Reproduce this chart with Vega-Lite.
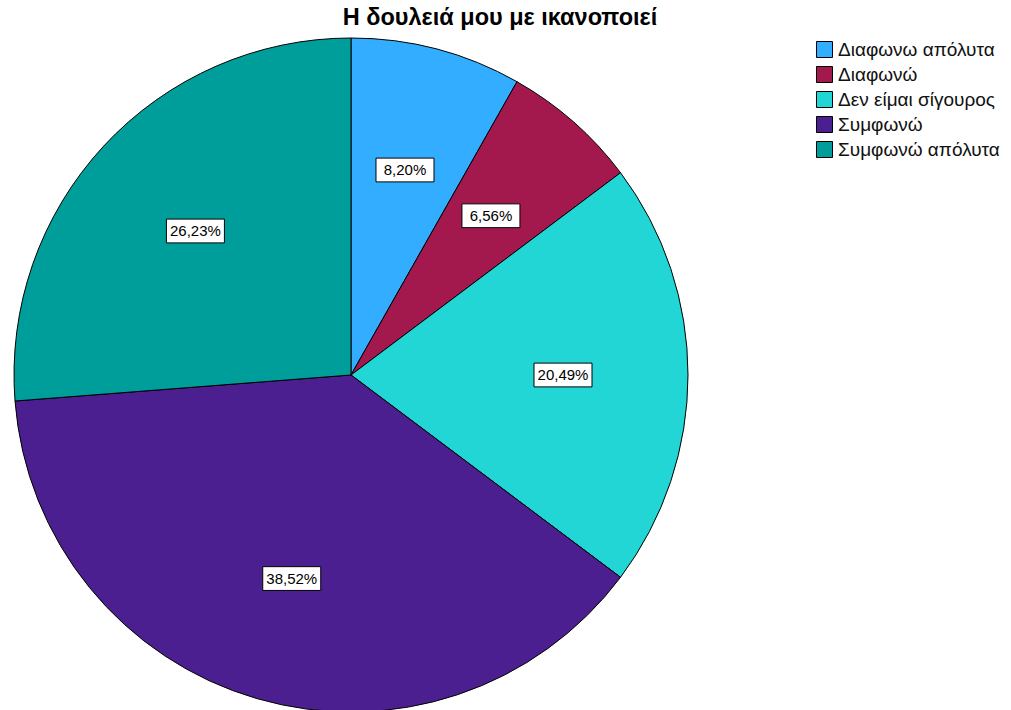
{
  "$schema": "https://vega.github.io/schema/vega-lite/v6.json",
  "width": 702,
  "height": 690,
  "autosize": {"type": "none"},
  "padding": {"left": 0, "top": 30, "right": 309, "bottom": 0},
  "background": "white",
  "config": {"view": {"stroke": null}, "font": "Liberation Sans"},
  "title": {
    "text": "Η δουλειά μου με ικανοποιεί",
    "font": "Liberation Sans",
    "fontSize": 23.5,
    "fontWeight": "bold",
    "color": "#000000",
    "anchor": "middle",
    "dx": 149,
    "offset": 1
  },
  "data": {
    "values": [
      {"k": 1, "cat": "Διαφωνω απόλυτα", "n": 10, "label": "8,20%"},
      {"k": 2, "cat": "Διαφωνώ", "n": 8, "label": "6,56%"},
      {"k": 3, "cat": "Δεν είμαι σίγουρος", "n": 25, "label": "20,49%"},
      {"k": 4, "cat": "Συμφωνώ", "n": 47, "label": "38,52%"},
      {"k": 5, "cat": "Συμφωνώ απόλυτα", "n": 32, "label": "26,23%"}
    ]
  },
  "layer": [
    {
      "mark": {"type": "arc", "radius": 337, "stroke": "#000000", "strokeWidth": 1},
      "encoding": {
        "theta": {"field": "n", "type": "quantitative", "stack": true},
        "order": {"field": "k", "type": "ordinal"},
        "color": {
          "field": "cat",
          "type": "nominal",
          "scale": {
            "domain": ["Διαφωνω απόλυτα", "Διαφωνώ", "Δεν είμαι σίγουρος", "Συμφωνώ", "Συμφωνώ απόλυτα"],
            "range": ["#33adff", "#a3194e", "#22d6d6", "#4c1f91", "#009e9a"]
          },
          "legend": {
            "title": null,
            "orient": "none",
            "legendX": 815,
            "legendY": 10,
            "symbolType": "square",
            "symbolSize": 256,
            "symbolStrokeColor": "#000000",
            "symbolStrokeWidth": 1,
            "labelFont": "Liberation Sans",
            "labelFontSize": 19,
            "labelColor": "#111111",
            "labelOffset": 4,
            "labelLimit": 400,
            "rowPadding": 4
          }
        }
      }
    },
    {
      "transform": [
        {"window": [{"op": "sum", "field": "n", "as": "cum"}], "sort": [{"field": "k"}]},
        {"joinaggregate": [{"op": "sum", "field": "n", "as": "tot"}]},
        {"calculate": "(datum.cum - datum.n / 2) / datum.tot * 2 * PI", "as": "mid"},
        {"calculate": "212 * sin(datum.mid)", "as": "lx"},
        {"calculate": "212 * cos(datum.mid)", "as": "ly"}
      ],
      "layer": [
        {
          "mark": {
            "type": "point",
            "shape": "M-1,-0.41H1V0.41H-1Z",
            "filled": true,
            "fill": "white",
            "stroke": "#000000",
            "strokeWidth": 1,
            "opacity": 1,
            "size": 3364
          },
          "encoding": {
            "x": {"field": "lx", "type": "quantitative", "scale": {"domain": [-351, 351], "nice": false, "zero": false}, "axis": null},
            "y": {"field": "ly", "type": "quantitative", "scale": {"domain": [-345, 345], "nice": false, "zero": false}, "axis": null}
          }
        },
        {
          "mark": {"type": "text", "font": "Liberation Sans", "fontSize": 15, "color": "#000000", "align": "center", "baseline": "middle"},
          "encoding": {
            "x": {"field": "lx", "type": "quantitative"},
            "y": {"field": "ly", "type": "quantitative"},
            "text": {"field": "label"}
          }
        }
      ]
    }
  ]
}
